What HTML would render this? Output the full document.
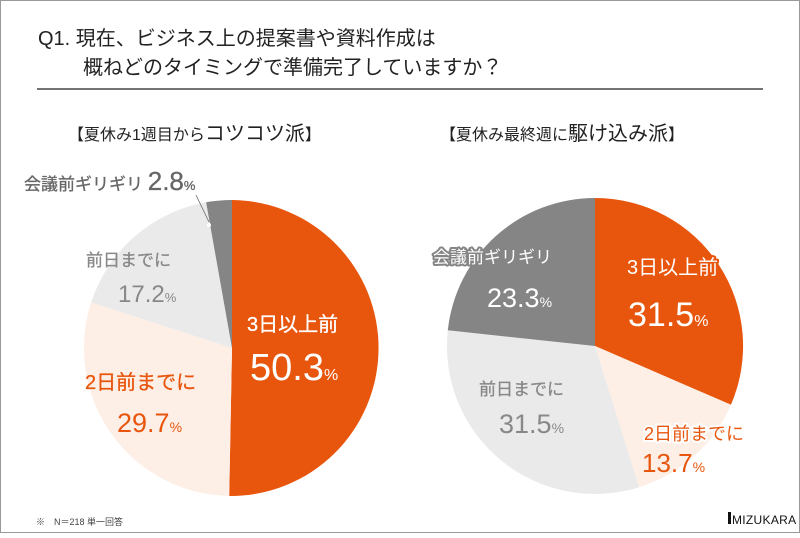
<!DOCTYPE html>
<html><head><meta charset="utf-8"><style>
html,body{margin:0;padding:0;background:#fff}
body{width:800px;height:533px;overflow:hidden}
.o{paint-order:stroke;stroke-linejoin:round}
</style></head><body>
<svg width="800" height="533" viewBox="0 0 800 533" xmlns="http://www.w3.org/2000/svg" font-family="Liberation Sans, Noto Sans CJK JP, sans-serif">
<rect x="0.5" y="0.5" width="799" height="532" fill="#fff" stroke="#999" stroke-width="1"/>
<text x="38" y="45" font-size="20" fill="#222">Q1. 現在、ビジネス上の提案書や資料作成は</text>
<text x="83" y="74" font-size="20" fill="#222">概ねどのタイミングで準備完了していますか？</text>
<line x1="37" y1="89" x2="763" y2="89" stroke="#222" stroke-width="1.2"/>
<text x="68" y="140" font-size="16" fill="#222">【夏休み1週目から<tspan font-size="20">コツコツ派</tspan>】</text>
<text x="440" y="140" font-size="16" fill="#222">【夏休み最終週に<tspan font-size="20">駆け込み派</tspan>】</text>

<g>
<path d="M232,348 L232,200 A148,148 0 0 1 229.2,496 Z" fill="#E8560D"/>
<path d="M232,348 L229.2,496 A148,148 0 0 1 91.2,302.3 Z" fill="#FDEEE6"/>
<path d="M232,348 L91.2,302.3 A148,148 0 0 1 206.1,202.3 Z" fill="#EAEAEA"/>
<path d="M232,348 L206.1,202.3 A148,148 0 0 1 232,200 Z" fill="#858585"/>
</g>
<line x1="196" y1="195" x2="209" y2="222" stroke="#666" stroke-width="0.8"/>
<circle cx="209" cy="225" r="2" fill="#fff"/>
<text x="24" y="190" font-size="17" fill="#666" stroke="#666" stroke-width="0.3">会議前ギリギリ <tspan font-size="26">2.8</tspan><tspan font-size="13">%</tspan></text>
<text x="86" y="266" font-size="17" fill="#888" stroke="#888" stroke-width="0.3">前日までに</text>
<text x="118" y="302" font-size="24" fill="#888">17.2<tspan font-size="13">%</tspan></text>
<text x="247" y="331" font-size="20" fill="#fff" stroke="#fff" stroke-width="0.3">3日以上前</text>
<text x="250" y="380" font-size="38" fill="#fff">50.3<tspan font-size="16">%</tspan></text>
<text x="85" y="389" font-size="20" fill="#E8560D" stroke="#E8560D" stroke-width="0.3">2日前までに</text>
<text x="117" y="432" font-size="27" fill="#E8560D">29.7<tspan font-size="14">%</tspan></text>

<g>
<path d="M595,346 L595,198 A148,148 0 0 1 730.9,404.8 Z" fill="#E8560D"/>
<path d="M595,346 L730.9,404.8 A148,148 0 0 1 639,487.3 Z" fill="#FDEEE6"/>
<path d="M595,346 L639,487.3 A148,148 0 0 1 447.8,330.3 Z" fill="#EAEAEA"/>
<path d="M595,346 L447.8,330.3 A148,148 0 0 1 595,198 Z" fill="#858585"/>
</g>
<text class="o" x="433" y="263" font-size="17" fill="#fff" stroke="#858585" stroke-width="4">会議前ギリギリ</text>
<text x="487" y="307" font-size="27" fill="#fff">23.3<tspan font-size="14">%</tspan></text>
<text class="o" x="627" y="274" font-size="20" fill="#fff" stroke="#E8560D" stroke-width="4">3日以上前</text>
<text x="628" y="326" font-size="34" fill="#fff">31.5<tspan font-size="16">%</tspan></text>
<text x="479" y="395" font-size="17" fill="#888" stroke="#888" stroke-width="0.3">前日までに</text>
<text x="499" y="433" font-size="27" fill="#888">31.5<tspan font-size="14">%</tspan></text>
<text class="o" x="644" y="440" font-size="18" fill="#E8560D" stroke="#fff" stroke-width="4">2日前までに</text>
<text x="642" y="472" font-size="26" fill="#E8560D">13.7<tspan font-size="14">%</tspan></text>

<text x="36" y="525" font-size="9" fill="#444">※　N＝218 単一回答</text>
<rect x="728" y="512" width="3" height="12" fill="#111"/>
<text x="732" y="524" font-size="12" fill="#111" letter-spacing="0.3">MIZUKARA</text>
</svg>
</body></html>
